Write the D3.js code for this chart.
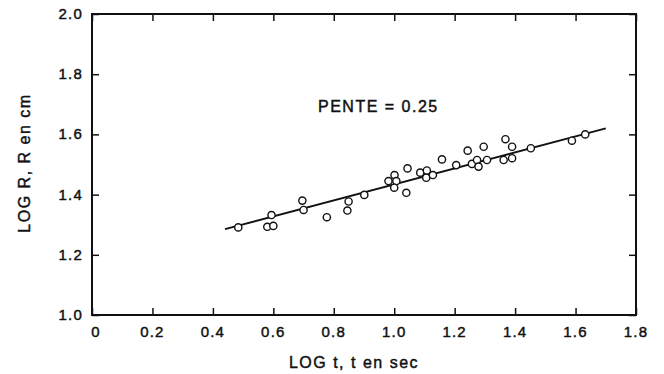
<!DOCTYPE html>
<html>
<head>
<meta charset="utf-8">
<script src="https://cdn.jsdelivr.net/npm/d3@7"></script>
<style>
  body { margin: 0; background: #fff; }
  svg text { font-family: "Liberation Sans", Arial, Helvetica, sans-serif; fill: #111; stroke: #111; stroke-width: 0.45; }
</style>
</head>
<body>
<div id="chart"></div>
<script>
// Measured points (log t, log R)
const logT = [0.484, 0.580, 0.600, 0.594, 0.696, 0.700, 0.777, 0.845, 0.849, 0.901,
  0.981, 1.001, 1.007, 1.000, 1.044, 1.040, 1.086, 1.108, 1.106, 1.128,
  1.158, 1.205, 1.243, 1.257, 1.274, 1.279, 1.296, 1.307, 1.368, 1.390,
  1.362, 1.390, 1.452, 1.588, 1.632];
const logR = [1.291, 1.293, 1.296, 1.332, 1.380, 1.349, 1.325, 1.347, 1.377, 1.399,
  1.445, 1.465, 1.445, 1.423, 1.487, 1.406, 1.473, 1.480, 1.456, 1.465,
  1.517, 1.498, 1.546, 1.502, 1.515, 1.493, 1.559, 1.515, 1.584, 1.559,
  1.515, 1.521, 1.554, 1.579, 1.600];

// Fitted line end points
const fitT = [0.44, 1.70];
const fitR = [1.285, 1.62];

// Axis ticks
const xTicks = [0, 0.2, 0.4, 0.6, 0.8, 1.0, 1.2, 1.4, 1.6, 1.8];
const xTickLabels = ["0", "0.2", "0.4", "0.6", "0.8", "1.0", "1.2", "1.4", "1.6", "1.8"];
const yTicks = [1.0, 1.2, 1.4, 1.6, 1.8, 2.0];
const yTickLabels = ["1.0", "1.2", "1.4", "1.6", "1.8", "2.0"];

const width = 664;
const height = 374;
const margin = { left: 92, right: 28, top: 14, bottom: 59 };

const svg = d3.select('#chart')
  .append('svg')
    .attr('width', width)
    .attr('height', height);

const x = d3.scaleLinear()
  .domain([0, 1.8])
  .range([margin.left, width - margin.right]);

const y = d3.scaleLinear()
  .domain([1.0, 2.0])
  .range([height - margin.bottom, margin.top]);

const tickLen = 7;

// Bottom axis: inward ticks, labels below
svg.append('g')
    .attr('transform', `translate(0,${y(1.0)})`)
    .call(d3.axisTop(x).tickValues(xTicks).tickSize(tickLen).tickFormat(''))
    .call(g => g.select('.domain').remove())
    .call(g => g.selectAll('line').attr('stroke', '#111').attr('stroke-width', 1.5));

svg.append('g')
  .selectAll('text')
  .data(xTicks)
  .join('text')
    .attr('x', d => x(d) + (d === 0 ? 4 : 0))
    .attr('y', y(1.0) + 22)
    .attr('text-anchor', 'middle')
    .attr('font-size', 15)
    .attr('letter-spacing', 1.2)
    .text((d, i) => xTickLabels[i]);

// Top axis: ticks only
svg.append('g')
    .attr('transform', `translate(0,${y(2.0)})`)
    .call(d3.axisBottom(x).tickValues(xTicks).tickSize(tickLen).tickFormat(''))
    .call(g => g.select('.domain').remove())
    .call(g => g.selectAll('line').attr('stroke', '#111').attr('stroke-width', 1.5));

// Left axis
svg.append('g')
    .attr('transform', `translate(${x(0)},0)`)
    .call(d3.axisRight(y).tickValues(yTicks).tickSize(tickLen).tickFormat(''))
    .call(g => g.select('.domain').remove())
    .call(g => g.selectAll('line').attr('stroke', '#111').attr('stroke-width', 1.5));

svg.append('g')
  .selectAll('text')
  .data(yTicks)
  .join('text')
    .attr('x', x(0) - 9)
    .attr('y', d => y(d) + 5)
    .attr('text-anchor', 'end')
    .attr('font-size', 15)
    .attr('letter-spacing', 1.2)
    .text((d, i) => yTickLabels[i]);

// Right axis: ticks only
svg.append('g')
    .attr('transform', `translate(${x(1.8)},0)`)
    .call(d3.axisLeft(y).tickValues(yTicks).tickSize(tickLen).tickFormat(''))
    .call(g => g.select('.domain').remove())
    .call(g => g.selectAll('line').attr('stroke', '#111').attr('stroke-width', 1.5));

// Frame
svg.append('rect')
    .attr('x', x(0))
    .attr('y', y(2.0))
    .attr('width', x(1.8) - x(0))
    .attr('height', y(1.0) - y(2.0))
    .attr('fill', 'none')
    .attr('stroke', '#111')
    .attr('stroke-width', 2);

// Fitted line
svg.append('line')
    .attr('x1', x(fitT[0]))
    .attr('y1', y(fitR[0]))
    .attr('x2', x(fitT[1]))
    .attr('y2', y(fitR[1]))
    .attr('stroke', '#111')
    .attr('stroke-width', 1.8);

// Points: open circles
svg.append('g')
  .selectAll('circle')
  .data(logT)
  .join('circle')
    .attr('cx', d => x(d))
    .attr('cy', (d, i) => y(logR[i]))
    .attr('r', 3.6)
    .attr('fill', '#fff')
    .attr('stroke', '#111')
    .attr('stroke-width', 1.4);

// Slope annotation
svg.append('text')
    .attr('x', 318)
    .attr('y', 112)
    .attr('font-size', 16)
    .attr('letter-spacing', 1.5)
    .text('PENTE = 0.25');

// Axis titles
svg.append('text')
    .attr('x', 354)
    .attr('y', 368)
    .attr('text-anchor', 'middle')
    .attr('font-size', 16)
    .attr('letter-spacing', 1.5)
    .text('LOG t, t en sec');

svg.append('text')
    .attr('transform', `translate(30,163) rotate(-90)`)
    .attr('text-anchor', 'middle')
    .attr('font-size', 16)
    .attr('letter-spacing', 1.5)
    .text('LOG R, R en cm');
</script>
</body>
</html>
